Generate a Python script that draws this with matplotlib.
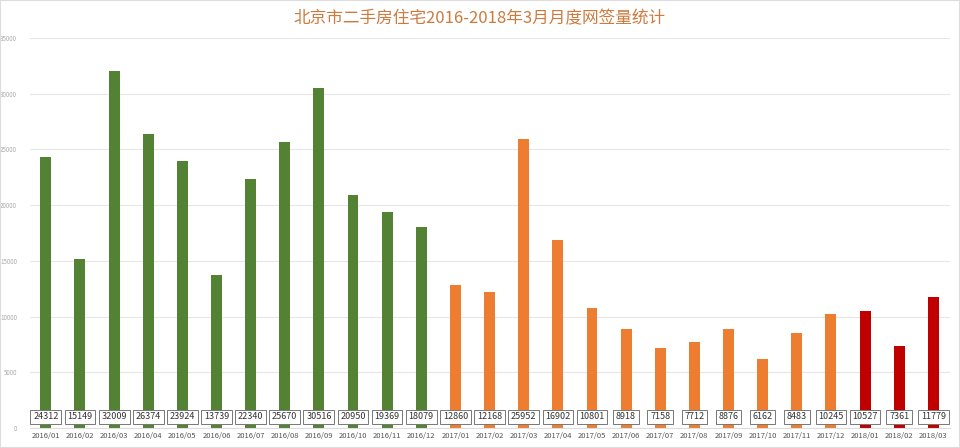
import matplotlib
matplotlib.use("Agg")
import matplotlib.pyplot as plt

plt.rcParams['font.family'] = ['Noto Sans CJK SC', 'DejaVu Sans']

months = ["2016/01","2016/02","2016/03","2016/04","2016/05","2016/06","2016/07","2016/08","2016/09","2016/10","2016/11","2016/12",
          "2017/01","2017/02","2017/03","2017/04","2017/05","2017/06","2017/07","2017/08","2017/09","2017/10","2017/11","2017/12",
          "2018/01","2018/02","2018/03"]
values = [24312,15149,32009,26374,23924,13739,22340,25670,30516,20950,19369,18079,
          12860,12168,25952,16902,10801,8918,7158,7712,8876,6162,8483,10245,
          10527,7361,11779]
title = "北京市二手房住宅2016-2018年3月月度网签量统计"

def color_for(m):
    if m.startswith("2016"):
        return "#548235"
    if m.startswith("2017"):
        return "#ed7d31"
    return "#c00000"

colors = [color_for(m) for m in months]

fig = plt.figure(figsize=(9.6, 4.48), dpi=100)
ax = fig.add_axes([0.031, 0.0446, 0.959, 0.8705])
x = list(range(len(months)))
ax.bar(x, values, width=0.32, color=colors, zorder=2)
for xi, v in zip(x, values):
    ax.text(xi, 1000, str(v), ha='center', va='center', fontsize=6.5, color='#333333',
            bbox=dict(boxstyle='square,pad=0.3', fc='white', ec='#777777', lw=0.7), zorder=3)

ax.set_ylim(0, 35000)
ax.set_xlim(-0.47, 26.5)
ax.set_yticks(range(0, 35001, 5000))
ax.set_xticks(x)
ax.set_xticklabels(months, fontsize=5.5, color='#555555')
ax.tick_params(axis='y', labelsize=4.5, colors='#aaaaaa', length=0, pad=9)
ax.tick_params(axis='x', length=0, pad=3)
ax.grid(axis='y', color='#e6e6e6', lw=0.8, zorder=0)
for s in ax.spines.values():
    s.set_visible(False)
ax.spines['bottom'].set_visible(True)
ax.spines['bottom'].set_color('#dddddd')

fig.text(0.5, 0.958, title, ha='center', va='center', fontsize=12, color='#cc7a3e')
fig.patches.append(matplotlib.patches.Rectangle((0, 0), 1, 1, transform=fig.transFigure,
                                                fill=False, ec='#dddddd', lw=1.5))
fig.savefig("out.png", dpi=100)
